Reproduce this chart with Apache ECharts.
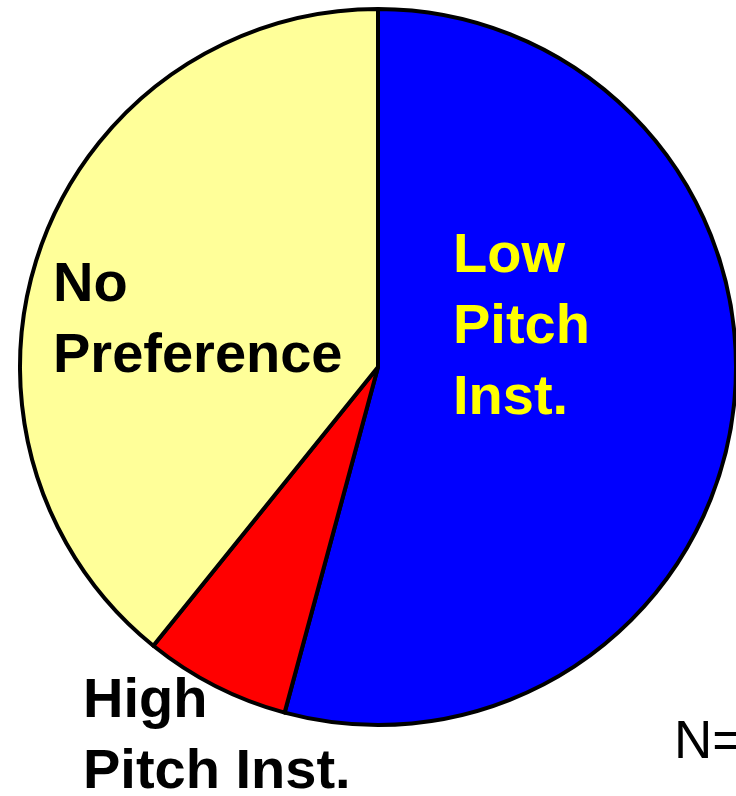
<!DOCTYPE html>
<html>
<head>
<meta charset="utf-8">
<style>
  html, body { margin: 0; padding: 0; background: #ffffff; }
  #chart { width: 736px; height: 796px; }
</style>
<script src="https://cdn.jsdelivr.net/npm/echarts@6/dist/echarts.min.js"></script>
</head>
<body>
<div id="chart"></div>
<script>
// Instrument preference shares (percent of respondents)
const categories = ['Low\nPitch\nInst.', 'High\nPitch Inst.', 'No\nPreference'];
const shares = [54.2, 6.6, 39.2];
const sliceColors = ['#0000ff', '#ff0000', '#ffff99'];
const sampleNote = 'N=';

const chart = echarts.init(document.getElementById('chart'), null, { renderer: 'canvas' });

const labelFont = { fontFamily: 'Liberation Sans, Arial, sans-serif', fontWeight: 'bold', fontSize: 56, lineHeight: 71 };
// where each category name is written, and its colour
const labelPlaces = [
  { x: 453, y: 221, fill: '#ffff00' },
  { x: 83, y: 666, fill: '#000000' },
  { x: 53, y: 250, fill: '#000000' }
];

chart.setOption({
  animation: false,
  backgroundColor: '#ffffff',
  series: [{
    type: 'pie',
    center: [378, 367],
    radius: 358,
    startAngle: 90,
    clockwise: true,
    avoidLabelOverlap: false,
    label: { show: false },
    labelLine: { show: false },
    itemStyle: { borderColor: '#000000', borderWidth: 4 },
    emphasis: { disabled: true },
    data: categories.map((name, i) => ({
      name: name,
      value: shares[i],
      itemStyle: { color: sliceColors[i] }
    }))
  }],
  graphic: categories.map((name, i) => ({
    type: 'text',
    z: 100,
    left: labelPlaces[i].x,
    top: labelPlaces[i].y,
    style: Object.assign({ text: name, fill: labelPlaces[i].fill }, labelFont)
  })).concat([{
    type: 'text',
    z: 100,
    left: 674,
    top: 717,
    style: { text: sampleNote, fill: '#000000', fontFamily: 'Liberation Sans, Arial, sans-serif', fontSize: 53 }
  }])
});
</script>
</body>
</html>
